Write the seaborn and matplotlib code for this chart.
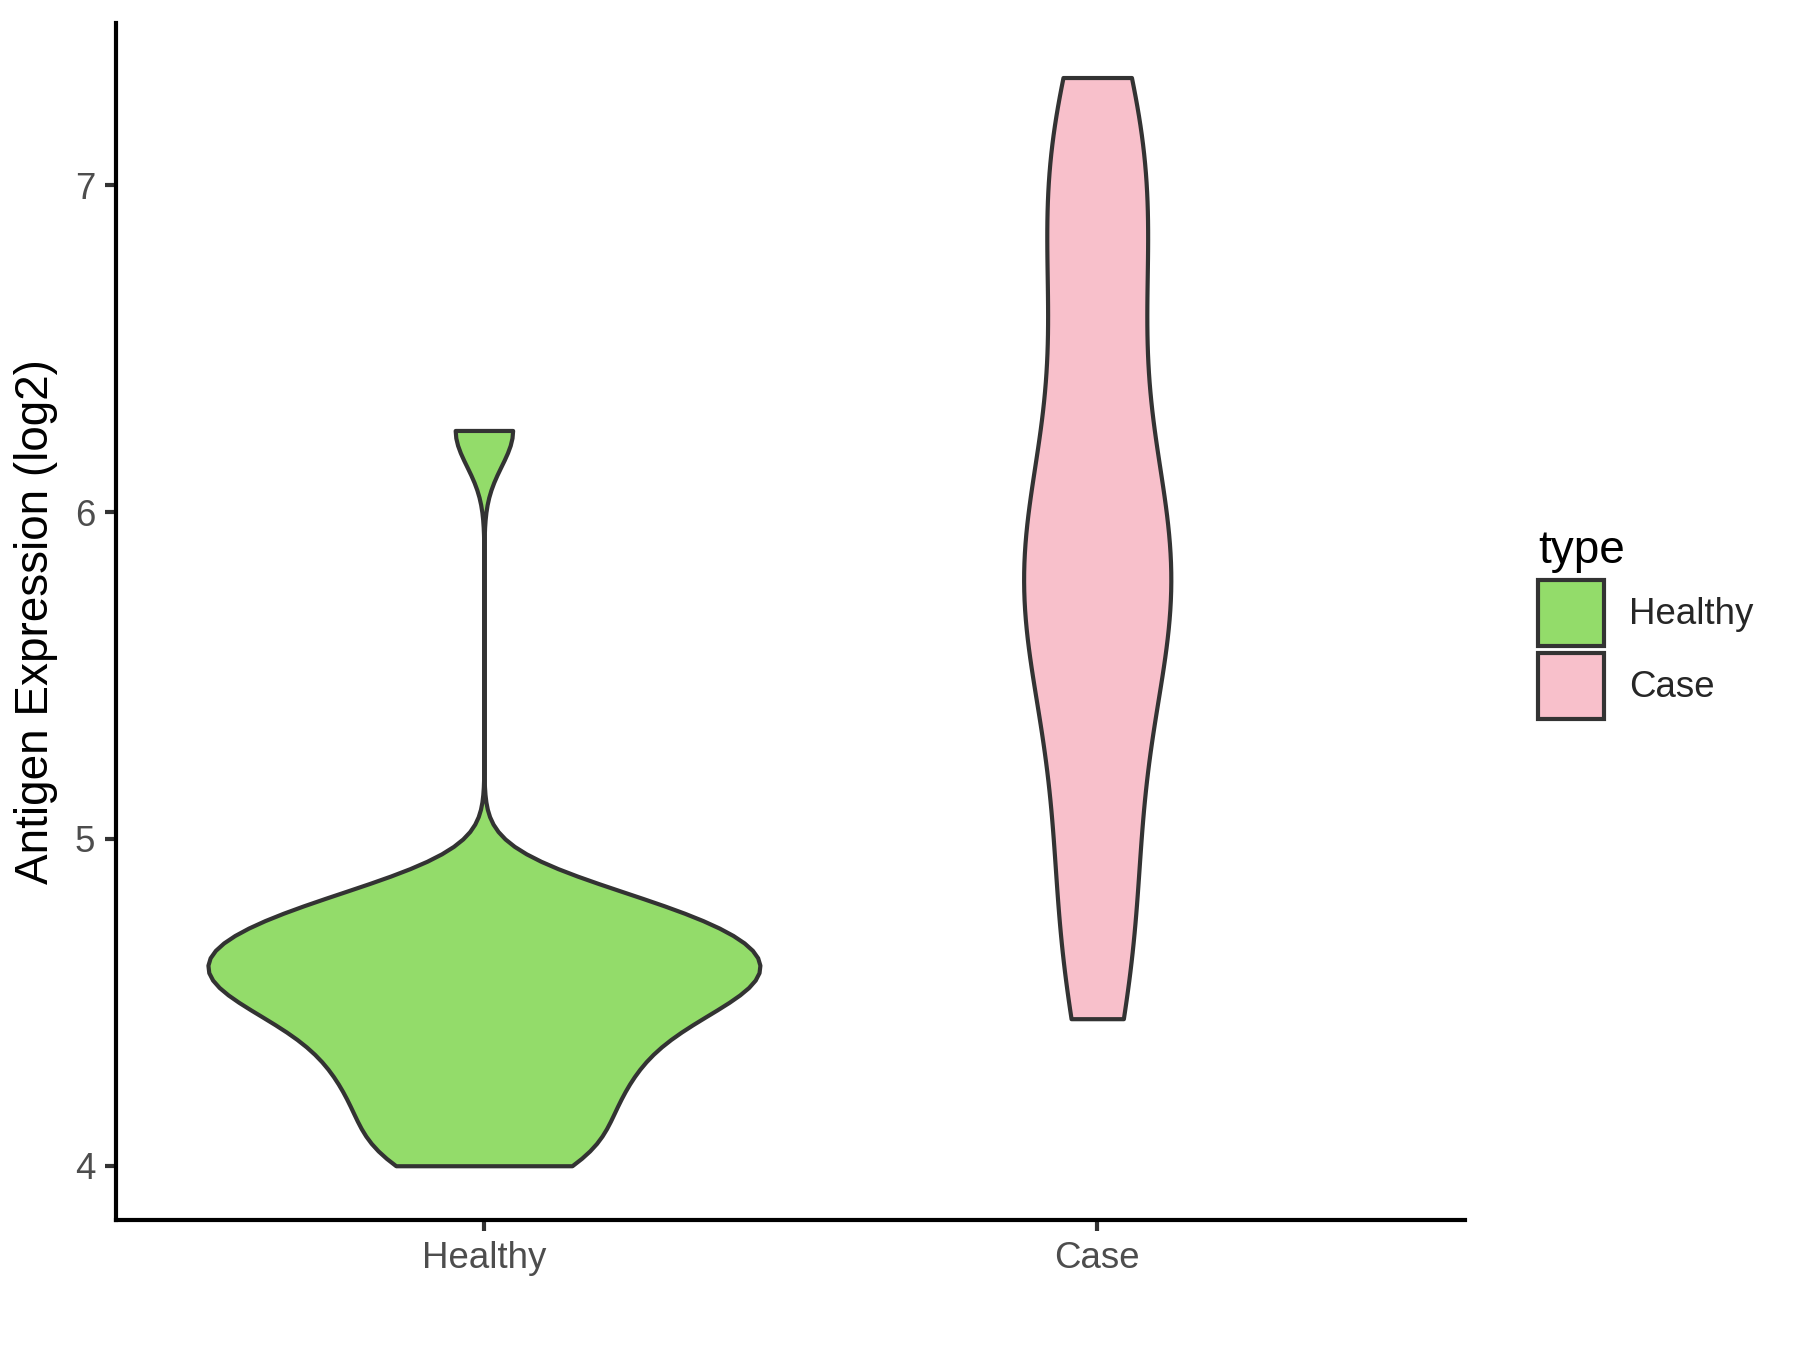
import numpy as np
import pandas as pd
import matplotlib
matplotlib.use('Agg')
import matplotlib.pyplot as plt
import seaborn as sns
from matplotlib.patches import Patch

# 数据
categories = ['Healthy', 'Case']
healthy_vals = [4.00, 4.03, 4.10, 4.17, 4.23, 4.28, 4.33, 4.38, 4.43, 4.47, 4.50, 4.53,
                4.56, 4.58, 4.60, 4.62, 4.65, 4.68, 4.71, 4.74, 4.77, 4.80, 4.84, 6.25]
case_vals = [4.45, 4.65, 4.85, 5.05, 5.25, 5.45, 5.58, 5.68, 5.76, 5.84, 5.92, 6.02,
             6.17, 6.35, 6.60, 6.75, 6.90, 7.05, 7.20, 7.33]
colors = {'Healthy': '#93DC6A', 'Case': '#F8C0CB'}
y_ticks = [4, 5, 6, 7]

df = pd.DataFrame({
    'type': ['Healthy'] * len(healthy_vals) + ['Case'] * len(case_vals),
    'value': healthy_vals + case_vals,
})

sns.set_style('ticks')
plt.rcParams['font.family'] = ['Liberation Sans', 'DejaVu Sans']

fig = plt.figure(figsize=(6, 4.5), dpi=300)
ax = fig.add_axes([0.0644, 0.0963, 0.814 - 0.0644, 0.983 - 0.0963])

edge = '#333333'
# 两组带宽与宽度不同，分开画
sns.violinplot(data=df[df['type'] == 'Healthy'], x='type', y='value', hue='type',
               order=categories, hue_order=categories, palette=colors, saturation=1,
               cut=0, inner=None, width=0.9, density_norm='width', bw_adjust=0.47,
               linewidth=1.0, linecolor=edge, legend=False, ax=ax)
sns.violinplot(data=df[df['type'] == 'Case'], x='type', y='value', hue='type',
               order=categories, hue_order=categories, palette=colors, saturation=1,
               cut=0, inner=None, width=0.24, density_norm='width', bw_adjust=0.7,
               linewidth=1.0, linecolor=edge, legend=False, ax=ax)

ax.set_xlim(-0.6, 1.6)
ax.set_ylim(3.834, 7.497)
ax.set_yticks(y_ticks)
ax.set_yticklabels([str(t) for t in y_ticks])
ax.set_xlabel('')
ax.set_ylabel('Antigen Expression (log2)', fontsize=11, color='black')
ax.tick_params(axis='both', length=2.75, width=1.0, color=edge,
               labelsize=8.8, labelcolor='#4D4D4D', pad=2.2)
for side in ['top', 'right']:
    ax.spines[side].set_visible(False)
for side in ['left', 'bottom']:
    ax.spines[side].set_linewidth(1.0)
    ax.spines[side].set_color('black')

handles = [Patch(facecolor=colors[c], edgecolor=edge, linewidth=1.0, label=c) for c in categories]
leg = fig.legend(handles=handles, title='type', loc='center left',
                 bbox_to_anchor=(0.836, 0.538), frameon=False,
                 fontsize=8.8, title_fontsize=11, handlelength=1.8,
                 handleheight=2.385, labelspacing=0.2, handletextpad=0.68,
                 alignment='left')
leg.get_title().set_color('black')

plt.savefig('out.png', dpi=300)
